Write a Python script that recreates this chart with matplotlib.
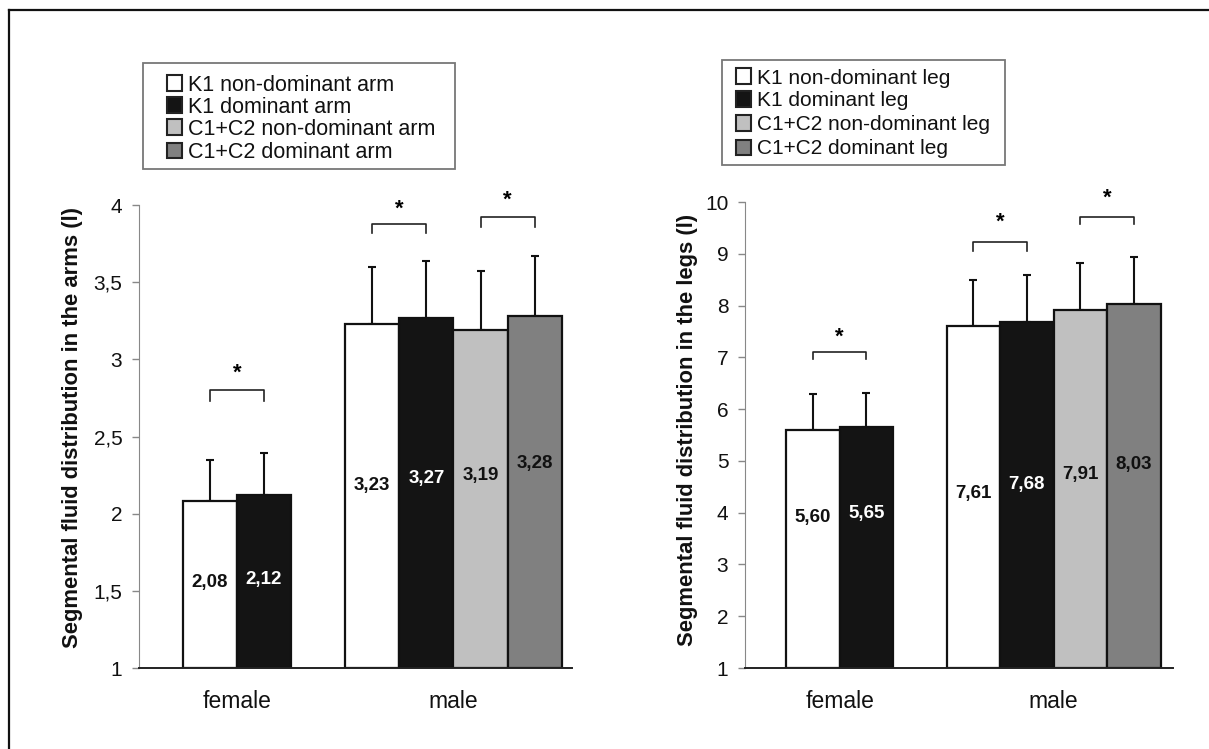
import numpy as np
import matplotlib
matplotlib.use("Agg")
from matplotlib import pyplot as plt
from matplotlib.patches import Rectangle
from matplotlib.lines import Line2D

plt.rcParams['font.family'] = ['Liberation Sans', 'DejaVu Sans']

groups = ['female', 'male']

arm_labels = ['K1 non-dominant arm', 'K1 dominant arm',
              'C1+C2 non-dominant arm', 'C1+C2 dominant arm']
arm_female = [2.08, 2.12]
arm_male = [3.23, 3.27, 3.19, 3.28]
arm_female_sd = [0.27, 0.27]
arm_male_sd = [0.37, 0.37, 0.38, 0.39]

leg_labels = ['K1 non-dominant leg', 'K1 dominant leg',
              'C1+C2 non-dominant leg', 'C1+C2 dominant leg']
leg_female = [5.60, 5.65]
leg_male = [7.61, 7.68, 7.91, 8.03]
leg_female_sd = [0.69, 0.67]
leg_male_sd = [0.89, 0.91, 0.92, 0.91]

colors = ['#ffffff', '#141414', '#c0c0c0', '#808080']
text_colors = ['#111111', '#ffffff', '#111111', '#111111']

W, H = 1209, 749
fig = plt.figure(figsize=(W / 100, H / 100), dpi=100)


def px(x, y):
    # pixel position (from top left) -> figure fraction
    return x / W, 1 - y / H


def fmt(v):
    return ('%.2f' % v).replace('.', ',')


def legend_box(labels, box, rows, sq_x, txt_x, fs):
    x0, y0, x1, y1 = box
    fig.add_artist(Rectangle(px(x0, y1), (x1 - x0) / W, (y1 - y0) / H,
                             transform=fig.transFigure, facecolor='white',
                             edgecolor='#777777', lw=1.3))
    for lab, c, ry in zip(labels, colors, rows):
        fig.add_artist(Rectangle(px(sq_x, ry + 7.5), 15 / W, 15 / H,
                                 transform=fig.transFigure, facecolor=c,
                                 edgecolor='#222222', lw=1.5))
        fig.text(*px(txt_x, ry), lab, ha='left', va='center_baseline',
                 fontsize=fs, color='#111111')


def draw_panel(rect, ylim, yticks, female, male, female_sd, male_sd,
               ylabel, ylabel_pos, brackets, label_frac, x0):
    ax = fig.add_axes(rect)
    vals = female + male
    sds = female_sd + male_sd
    xs = [x0 + 0.5, x0 + 1.5] + [x0 + 3.5 + i for i in range(4)]
    cols = colors[:2] + colors
    tcols = text_colors[:2] + text_colors
    base = ylim[0]
    ax.bar(xs, np.array(vals) - base, bottom=base, width=1.0, color=cols,
           edgecolor='#111111', linewidth=1.6, zorder=2)
    ax.errorbar(xs, vals, yerr=[np.zeros(len(sds)), sds], fmt='none',
                ecolor='#111111', elinewidth=1.5, capsize=3, capthick=1.5,
                zorder=1)
    for x, v, tc, f in zip(xs, vals, tcols, label_frac):
        ax.text(x, base + (v - base) * f, fmt(v), ha='center', va='center',
                fontsize=13.5, fontweight='bold', color=tc, zorder=3)

    # significance brackets
    for i, j, yb, ytick, ystar in brackets:
        ax.plot([xs[i], xs[i], xs[j], xs[j]], [ytick, yb, yb, ytick],
                color='#222222', lw=1.2, clip_on=False)
        ax.text((xs[i] + xs[j]) / 2, ystar, '*', ha='center', va='center',
                fontsize=16, fontweight='bold', clip_on=False)

    ax.set_xlim(0, 8)
    ax.set_ylim(*ylim)
    ax.set_yticks(yticks)
    ax.set_yticklabels([('%g' % t).replace('.', ',') for t in yticks],
                       fontsize=15, color='#111111')
    ax.set_xticks([x0 + 1, x0 + 5])
    ax.set_xticklabels(groups, fontsize=16.5, color='#111111')
    ax.tick_params(axis='x', length=0, pad=16)
    ax.tick_params(axis='y', length=5, color='#888888', width=1, pad=7)
    for s in ['top', 'right']:
        ax.spines[s].set_visible(False)
    ax.spines['left'].set_color('#888888')
    ax.spines['bottom'].set_color('#222222')
    ax.spines['bottom'].set_linewidth(1.4)
    fig.text(*px(*ylabel_pos), ylabel, rotation=90, ha='center', va='center',
             fontsize=15.8, fontweight='bold', color='#111111')
    return ax


draw_panel([139 / W, 1 - 668 / H, 433 / W, 463 / H], (1, 4),
           [1, 1.5, 2, 2.5, 3, 3.5, 4], arm_female, arm_male,
           arm_female_sd, arm_male_sd,
           'Segmental fluid distribution in the arms (l)', (73, 428),
           [(0, 1, 2.80, 2.73, 2.91), (2, 3, 3.88, 3.82, 3.97),
            (4, 5, 3.92, 3.86, 4.03)],
           [0.51, 0.51, 0.53, 0.54, 0.57, 0.58], 0.81)

draw_panel([745 / W, 1 - 668 / H, 428 / W, 466 / H], (1, 10),
           list(range(1, 11)), leg_female, leg_male,
           leg_female_sd, leg_male_sd,
           'Segmental fluid distribution in the legs (l)', (688, 430),
           [(0, 1, 7.10, 6.96, 7.38), (2, 3, 9.22, 9.05, 9.6),
            (4, 5, 9.71, 9.57, 10.08)],
           [0.63, 0.64, 0.51, 0.53, 0.54, 0.56], 0.77)

legend_box(arm_labels, (143, 63, 455, 169), [83, 105, 127, 150], 167, 188,
           15.5)
legend_box(leg_labels, (722, 60, 1005, 165), [76, 99, 123, 147], 736, 757,
           15)

# page frame
fig.add_artist(Line2D([9 / W, 1], [1 - 10 / H, 1 - 10 / H], color='#111111',
                      lw=1.6, transform=fig.transFigure))
fig.add_artist(Line2D([9 / W, 9 / W], [0, 1 - 10 / H], color='#111111',
                      lw=1.6, transform=fig.transFigure))

fig.savefig('out.png', dpi=100, facecolor='white')
